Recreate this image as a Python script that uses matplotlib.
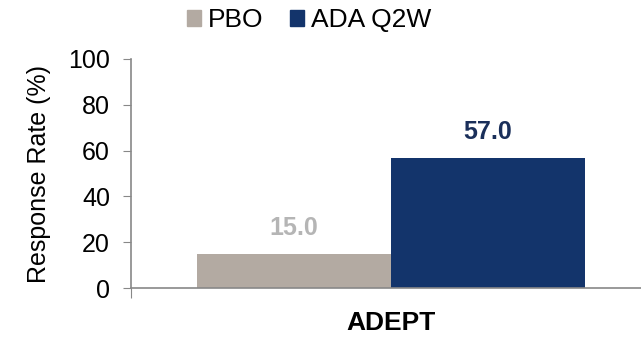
import matplotlib.pyplot as plt
from matplotlib.patches import Patch

plt.rcParams['font.family'] = ['Liberation Sans', 'DejaVu Sans']

study = 'ADEPT'
groups = ['PBO', 'ADA Q2W']
rates = [15.0, 57.0]
bar_colors = ['#b3aaa2', '#13346b']
label_colors = ['#b5b5b5', '#1a2f5a']

fig = plt.figure(figsize=(6.41, 3.41), dpi=100)
ax = fig.add_axes([0.204, 0.155, 0.796, 0.672])

width = 0.38
offsets = [-width / 2, width / 2]
for off, val, c, lc in zip(offsets, rates, bar_colors, label_colors):
    ax.bar(off, val, width=width, color=c)
    ax.text(off, val + 6, f'{val:.1f}', ha='center', va='bottom',
            fontsize=18, fontweight='bold', color=lc)

ax.set_xlim(-0.51, 0.49)
ax.set_ylim(0, 100)
ax.set_yticks(range(0, 101, 20))
ax.set_xticks([-0.51])
ax.set_xticklabels([''])
ax.tick_params(axis='y', labelsize=18, length=6, color='#888888', pad=9)
ax.tick_params(axis='x', length=7, color='#888888', direction='out')
ax.text(0.0, -0.15, study, transform=ax.get_xaxis_transform(), ha='center',
        va='center', fontsize=19, fontweight='bold')
ax.set_ylabel('Response Rate (%)', fontsize=18, labelpad=12)

for s in ['top', 'right']:
    ax.spines[s].set_visible(False)
for s in ['left', 'bottom']:
    ax.spines[s].set_color('#888888')
    ax.spines[s].set_linewidth(1.2)

handles = [Patch(color=c) for c in bar_colors]
fig.legend(handles, groups, loc='upper center', bbox_to_anchor=(0.482, 1.045),
           ncol=2, frameon=False, fontsize=19, handlelength=0.55,
           handleheight=0.55, handletextpad=0.25, columnspacing=1.0)

fig.savefig('out.png', dpi=100)
